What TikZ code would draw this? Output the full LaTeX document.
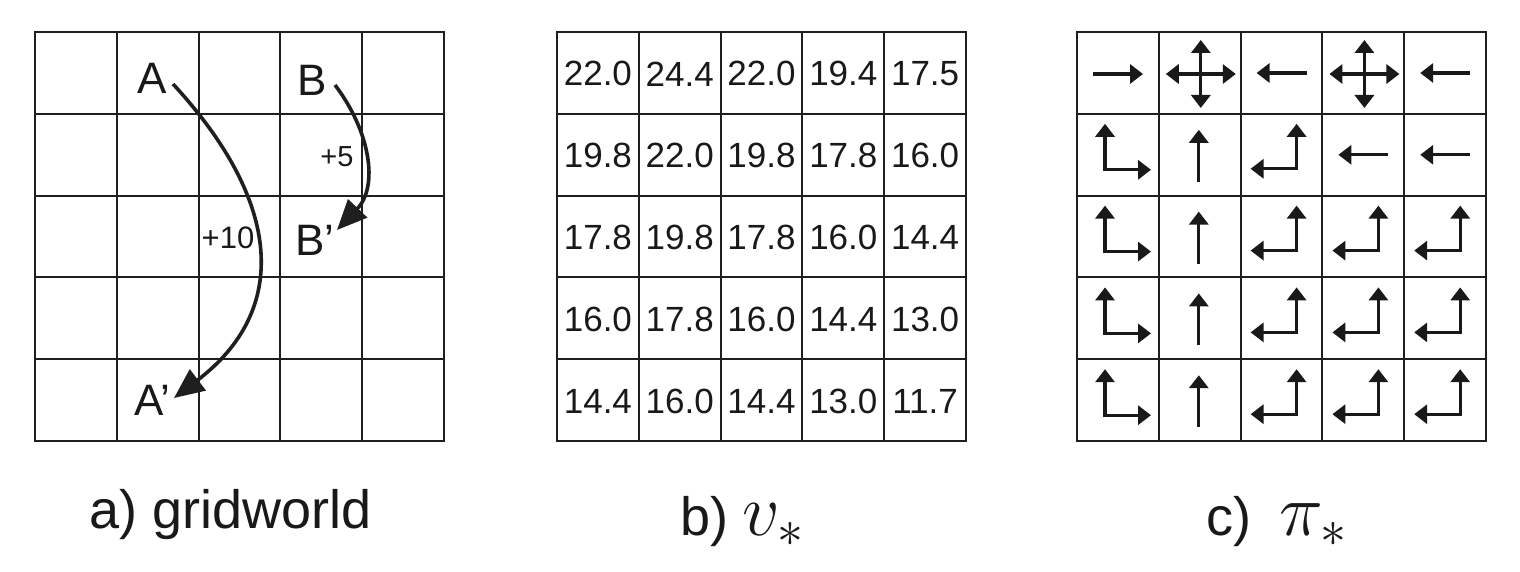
\documentclass[tikz,border=0pt]{standalone}
\usepackage{fix-cm}
\usepackage{fontspec}
\setmainfont{Liberation Sans}
\usetikzlibrary{arrows.meta}
\tikzset{
  gridline/.style={line width=2pt, draw=black!88},
  bigarrow/.style={line width=3.6pt, draw=black!88, -{Triangle[length=30pt,width=26pt]}},
  polarrow/.style={line width=3.2pt, draw=black!90, line join=miter},
  dbl/.style={polarrow, {Triangle[length=13pt,width=19pt]}-{Triangle[length=13pt,width=19pt]}},
  sgl/.style={polarrow, -{Triangle[length=13pt,width=19pt]}},
  numtxt/.style={inner sep=0pt, font=\fontsize{35}{40}\selectfont, text=black!90},
  lettxt/.style={inner sep=0pt, font=\fontsize{44}{48}\selectfont, text=black!90},
  captxt/.style={inner sep=0pt, anchor=base west, font=\fontsize{54}{60}\selectfont, text=black!90},
  pR/.pic={\draw[sgl] (16,42) -- (66,42);},
  pL/.pic={\draw[sgl] (66,41) -- (16,41);},
  pU/.pic={\draw[sgl] (40,68) -- (40,16);},
  pX/.pic={\draw[dbl] (7,42) -- (77,42); \draw[dbl] (42,8) -- (42,76);},
  pUR/.pic={\draw[dbl] (28,10) -- (28,56) -- (74,56);},
  pUL/.pic={\draw[dbl] (10,55) -- (56,55) -- (56,10);}
}
\begin{document}
\begin{tikzpicture}[x=1pt,y=-1pt]
\path[use as bounding box, fill=white] (0,0) rectangle (1520,572);

% grids
\foreach \gx in {35,557,1077}{
  \foreach \i in {0,...,5}{
    \draw[gridline] ({\gx+81.8*\i},32) -- ({\gx+81.8*\i},441);
    \draw[gridline] (\gx-1,{32+81.8*\i}) -- (\gx+410,{32+81.8*\i});
  }
}

% (a) gridworld
\node[lettxt] (A) at (152,78) {A};
\node[lettxt] (B) at (312,80) {B};
\node[lettxt] (Ap) at (152,400) {A’};
\node[lettxt] (Bp) at (315,240) {B’};
\coordinate (As) at (173,84);
\coordinate (Ae) at (174,398);
\coordinate (Bs) at (335,85);
\coordinate (Be) at (337,230);
\draw[bigarrow] (As) .. controls (282,202) and (290,310) .. (Ae);
\draw[bigarrow] (Bs) .. controls (370,131) and (379,186) .. (Be);
\node[inner sep=0pt, font=\fontsize{31}{32}\selectfont, text=black!90] (r10) at (228,238) {+10};
\node[inner sep=0pt, font=\fontsize{29}{30}\selectfont, text=black!90] (r5) at (337,157) {+5};

% (b) values
\foreach \row [count=\r from 0] in {{22.0,24.4,22.0,19.4,17.5},{19.8,22.0,19.8,17.8,16.0},{17.8,19.8,17.8,16.0,14.4},{16.0,17.8,16.0,14.4,13.0},{14.4,16.0,14.4,13.0,11.7}}{
  \foreach \v [count=\c from 0] in \row {
    \node[numtxt] (v\r\c) at ({557+81.8*(\c+0.5)},{33+81.8*(\r+0.5)}) {\v};
  }
}

% (c) policy
\foreach \c/\r/\t in {0/0/pR,1/0/pX,2/0/pL,3/0/pX,4/0/pL,
  0/1/pUR,1/1/pU,2/1/pUL,3/1/pL,4/1/pL,
  0/2/pUR,1/2/pU,2/2/pUL,3/2/pUL,4/2/pUL,
  0/3/pUR,1/3/pU,2/3/pUL,3/3/pUL,4/3/pUL,
  0/4/pUR,1/4/pU,2/4/pUL,3/4/pUL,4/4/pUL}{
  \pic at ({1077+81.8*\c},{32+81.8*\r}) {\t};
}

% captions
\node[captxt] (capa) at (89,528) {a) gridworld};
\node[captxt] (capb) at (680,535) {b)\hspace{14pt}{\fontsize{74}{74}\selectfont$v_*$}};
\node[captxt] (capc) at (1206,535) {c)\hspace{28pt}{\fontsize{74}{74}\selectfont$\pi_*$}};
\end{tikzpicture}
\end{document}
